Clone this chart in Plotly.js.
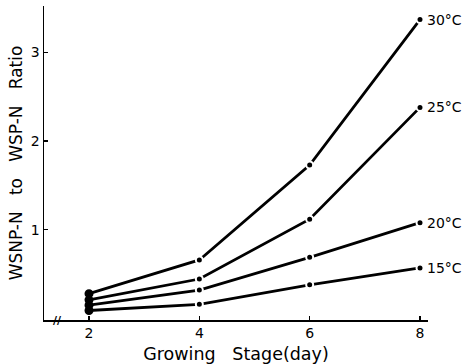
<!DOCTYPE html>
<html>
<head>
<meta charset="utf-8">
<script src="https://cdn.plot.ly/plotly-3.0.1.min.js"></script>
<style>html,body{margin:0;padding:0;background:#fff;}#chart{width:468px;height:364px;}</style>
</head>
<body>
<div id="chart"></div>
<script>
// Data
const days = [2, 4, 6, 8];
const seriesNames = ["30°C", "25°C", "20°C", "15°C"];
const ratio30 = [0.28, 0.66, 1.73, 3.37];
const ratio25 = [0.21, 0.445, 1.12, 2.38];
const ratio20 = [0.15, 0.32, 0.69, 1.08];
const ratio15 = [0.09, 0.16, 0.38, 0.57];
const xTickVals = [2, 4, 6, 8];
const yTickVals = [1, 2, 3];

const allSeries = [ratio30, ratio25, ratio20, ratio15];

const traces = allSeries.map((vals, i) => ({
  x: days,
  y: vals,
  name: seriesNames[i],
  type: 'scatter',
  mode: 'lines+markers',
  cliponaxis: false,
  line: {color: '#000', width: 2.8},
  marker: {
    color: '#000',
    size: 7,
    line: {color: days.map(d => d === days[0] ? '#000' : '#fff'), width: 2}
  },
  showlegend: false,
  hoverinfo: 'x+y+name'
}));

const labelFont = {family: 'DejaVu Sans, sans-serif', size: 14, color: '#000'};

const annotations = allSeries.map((vals, i) => ({
  x: days[days.length - 1],
  y: vals[vals.length - 1],
  xref: 'x', yref: 'y',
  text: seriesNames[i],
  showarrow: false,
  xanchor: 'left',
  yanchor: 'middle',
  xshift: 5,
  font: labelFont
}));

// axis break mark on the x axis
annotations.push({
  x: 0.034, y: 0, xref: 'paper', yref: 'paper',
  text: '<b>//</b>', showarrow: false, xanchor: 'center', yanchor: 'middle',
  font: {family: 'DejaVu Sans, sans-serif', size: 11, color: '#000'}
});

const sp = '\u00a0';
const layout = {
  width: 468,
  height: 364,
  margin: {l: 44, r: 40, t: 6, b: 44, pad: 0},
  paper_bgcolor: '#fff',
  plot_bgcolor: '#fff',
  font: {family: 'DejaVu Sans, sans-serif', size: 14, color: '#000'},
  xaxis: {
    range: [1.184, 8.145],
    tickvals: xTickVals,
    ticktext: xTickVals.map(String),
    ticks: 'inside', ticklen: 4, tickwidth: 1.2, tickcolor: '#000',
    showline: true, linecolor: '#000', linewidth: 1.5,
    showgrid: false, zeroline: false,
    tickfont: {size: 14},
    title: {text: 'Growing' + sp.repeat(3) + 'Stage(day)', font: {size: 17.5}, standoff: 8}
  },
  yaxis: {
    range: [-0.017, 3.523],
    tickvals: yTickVals,
    ticktext: yTickVals.map(String),
    ticks: 'inside', ticklen: 4, tickwidth: 1.2, tickcolor: '#000',
    showline: true, linecolor: '#000', linewidth: 1.5,
    showgrid: false, zeroline: false,
    tickfont: {size: 14},
    title: {text: 'WSNP-N' + sp.repeat(3) + 'to' + sp.repeat(3) + 'WSP-N' + sp.repeat(3) + 'Ratio', font: {size: 17}, standoff: 4}
  },
  annotations: annotations
};

Plotly.newPlot('chart', traces, layout, {displayModeBar: false, staticPlot: true});
</script>
</body>
</html>
